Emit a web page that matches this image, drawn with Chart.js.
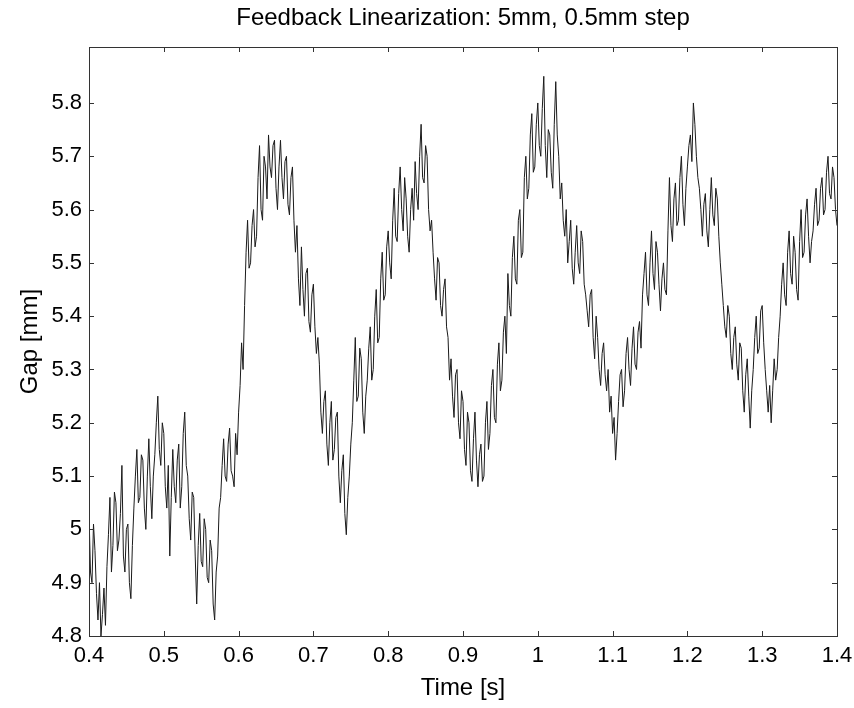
<!DOCTYPE html>
<html>
<head>
<meta charset="utf-8">
<title>Feedback Linearization</title>
<script src="https://cdn.jsdelivr.net/npm/chart.js@4.4.0/dist/chart.umd.min.js"></script>
<style>
  html, body { margin: 0; padding: 0; background: #fff; }
  #wrap { width: 854px; height: 708px; position: relative; }
</style>
</head>
<body>
<div id="wrap"><canvas id="myChart"></canvas></div>
<script>
// sampling of the gap signal (s)
const tStart = 0.4;
const tStep = 0.002;

// gap readings [mm], one every 2 ms from 0.400 s to 1.400 s (20 per row = 40 ms)
const gap = [
    5.03, 4.92, 4.90, 5.01, 4.96, 4.88, 4.83, 4.90, 4.80, 4.84, 4.89, 4.82, 4.93, 4.99, 5.06, 4.92, 4.97, 5.07, 5.05, 4.96,
    4.98, 5.03, 5.12, 4.95, 4.92, 5.00, 5.01, 4.90, 4.87, 4.97, 5.04, 5.10, 5.15, 5.05, 5.06, 5.14, 5.13, 5.04, 5.00, 5.10,
    5.17, 5.08, 5.02, 5.10, 5.14, 5.20, 5.25, 5.15, 5.12, 5.20, 5.18, 5.08, 5.04, 5.12, 4.95, 5.06, 5.15, 5.08, 5.05, 5.13,
    5.16, 5.04, 5.08, 5.18, 5.22, 5.12, 5.10, 5.02, 4.98, 5.07, 5.06, 4.95, 4.86, 4.97, 5.03, 4.94, 4.93, 5.02, 5.00, 4.91,
    4.90, 4.98, 4.96, 4.86, 4.83, 4.92, 4.95, 5.04, 5.06, 5.12, 5.17, 5.10, 5.09, 5.16, 5.19, 5.11, 5.10, 5.08, 5.18, 5.14,
    5.22, 5.27, 5.35, 5.30, 5.42, 5.52, 5.58, 5.49, 5.50, 5.57, 5.60, 5.53, 5.55, 5.66, 5.72, 5.60, 5.58, 5.70, 5.68, 5.62,
    5.74, 5.68, 5.66, 5.72, 5.73, 5.64, 5.60, 5.68, 5.73, 5.66, 5.62, 5.69, 5.70, 5.61, 5.59, 5.66, 5.68, 5.58, 5.52, 5.57,
    5.47, 5.42, 5.53, 5.45, 5.40, 5.48, 5.49, 5.39, 5.37, 5.44, 5.46, 5.38, 5.33, 5.36, 5.31, 5.22, 5.18, 5.24, 5.26, 5.16,
    5.12, 5.20, 5.24, 5.13, 5.15, 5.21, 5.22, 5.10, 5.05, 5.11, 5.14, 5.03, 4.99, 5.06, 5.10, 5.16, 5.20, 5.28, 5.36, 5.24,
    5.25, 5.34, 5.32, 5.22, 5.18, 5.25, 5.28, 5.34, 5.38, 5.28, 5.30, 5.40, 5.45, 5.35, 5.36, 5.47, 5.52, 5.43, 5.44, 5.53,
    5.56, 5.50, 5.47, 5.58, 5.64, 5.55, 5.54, 5.63, 5.68, 5.60, 5.56, 5.66, 5.62, 5.55, 5.52, 5.60, 5.64, 5.58, 5.69, 5.63,
    5.60, 5.70, 5.76, 5.66, 5.65, 5.72, 5.70, 5.60, 5.56, 5.58, 5.52, 5.47, 5.43, 5.51, 5.50, 5.42, 5.40, 5.45, 5.47, 5.38,
    5.36, 5.28, 5.32, 5.25, 5.21, 5.29, 5.30, 5.20, 5.17, 5.26, 5.24, 5.15, 5.12, 5.22, 5.20, 5.11, 5.09, 5.17, 5.22, 5.13,
    5.08, 5.14, 5.16, 5.09, 5.10, 5.20, 5.24, 5.15, 5.18, 5.27, 5.30, 5.21, 5.20, 5.31, 5.35, 5.26, 5.28, 5.37, 5.40, 5.33,
    5.48, 5.42, 5.40, 5.51, 5.55, 5.47, 5.46, 5.58, 5.60, 5.51, 5.52, 5.66, 5.70, 5.62, 5.64, 5.74, 5.78, 5.67, 5.68, 5.76,
    5.80, 5.72, 5.70, 5.79, 5.85, 5.72, 5.66, 5.75, 5.74, 5.67, 5.64, 5.76, 5.84, 5.74, 5.70, 5.62, 5.65, 5.58, 5.55, 5.60,
    5.50, 5.54, 5.58, 5.49, 5.46, 5.52, 5.57, 5.50, 5.48, 5.56, 5.54, 5.46, 5.44, 5.41, 5.38, 5.44, 5.45, 5.36, 5.32, 5.40,
    5.36, 5.30, 5.27, 5.33, 5.35, 5.29, 5.26, 5.30, 5.22, 5.25, 5.18, 5.21, 5.13, 5.18, 5.24, 5.29, 5.30, 5.23, 5.26, 5.33,
    5.36, 5.30, 5.27, 5.34, 5.38, 5.31, 5.30, 5.37, 5.39, 5.34, 5.44, 5.48, 5.52, 5.44, 5.42, 5.50, 5.56, 5.48, 5.45, 5.54,
    5.52, 5.46, 5.41, 5.47, 5.50, 5.45, 5.44, 5.56, 5.66, 5.57, 5.54, 5.62, 5.65, 5.57, 5.58, 5.66, 5.70, 5.61, 5.57, 5.64,
    5.68, 5.72, 5.74, 5.69, 5.80, 5.76, 5.70, 5.66, 5.64, 5.60, 5.55, 5.61, 5.63, 5.56, 5.53, 5.60, 5.66, 5.59, 5.57, 5.64,
    5.62, 5.55, 5.50, 5.46, 5.42, 5.38, 5.36, 5.42, 5.40, 5.33, 5.30, 5.36, 5.38, 5.31, 5.28, 5.35, 5.34, 5.26, 5.22, 5.29,
    5.32, 5.25, 5.19, 5.26, 5.30, 5.36, 5.40, 5.33, 5.34, 5.41, 5.42, 5.35, 5.30, 5.26, 5.22, 5.27, 5.20, 5.26, 5.32, 5.28,
    5.30, 5.36, 5.40, 5.46, 5.50, 5.44, 5.42, 5.52, 5.56, 5.48, 5.46, 5.55, 5.52, 5.45, 5.43, 5.54, 5.60, 5.51, 5.52, 5.59,
    5.62, 5.55, 5.50, 5.54, 5.56, 5.61, 5.64, 5.57, 5.58, 5.64, 5.66, 5.59, 5.60, 5.67, 5.70, 5.63, 5.62, 5.68, 5.66, 5.60,
    5.57
];

const xTicks = [0.4, 0.5, 0.6, 0.7, 0.8, 0.9, 1, 1.1, 1.2, 1.3, 1.4];
const yTicks = [4.8, 4.9, 5, 5.1, 5.2, 5.3, 5.4, 5.5, 5.6, 5.7, 5.8];

const points = gap.map((v, i) => ({ x: +(tStart + i * tStep).toFixed(3), y: v }));

const fontFam = '"Liberation Sans", Arial, Helvetica, sans-serif';

// matlab style box with inward tick marks on all four sides
const boxTicks = {
    id: 'boxTicks',
    afterDraw(chart) {
        const { ctx, chartArea: a, scales } = chart;
        const len = 5;
        ctx.save();
        ctx.strokeStyle = '#333';
        ctx.lineWidth = 1;
        ctx.strokeRect(a.left + 0.5, a.top + 0.5, a.right - a.left, a.bottom - a.top);
        ctx.beginPath();
        xTicks.forEach(v => {
            const px = Math.round(scales.x.getPixelForValue(v)) + 0.5;
            ctx.moveTo(px, a.bottom); ctx.lineTo(px, a.bottom - len);
            ctx.moveTo(px, a.top); ctx.lineTo(px, a.top + len);
        });
        yTicks.forEach(v => {
            const py = Math.round(scales.y.getPixelForValue(v)) + 0.5;
            ctx.moveTo(a.left, py); ctx.lineTo(a.left + len, py);
            ctx.moveTo(a.right, py); ctx.lineTo(a.right - len, py);
        });
        ctx.stroke();
        ctx.restore();
    }
};

const ctx = document.getElementById('myChart');
new Chart(ctx, {
    type: 'line',
    data: {
        datasets: [{
            label: 'Gap',
            data: points,
            borderColor: '#1a1a1a',
            borderWidth: 1,
            pointRadius: 0,
            tension: 0,
            fill: false
        }]
    },
    options: {
        responsive: true,
        maintainAspectRatio: false,
        animation: false,
        layout: { padding: { left: 0, right: 17, top: 0, bottom: 0 } },
        plugins: {
            legend: { display: false },
            tooltip: { enabled: false },
            title: {
                display: true,
                text: 'Feedback Linearization: 5mm, 0.5mm step',
                fullSize: false,
                color: '#000',
                font: { family: fontFam, size: 24, weight: 'normal' },
                padding: { top: 3.6, bottom: 14.6 }
            }
        },
        scales: {
            x: {
                type: 'linear',
                min: 0.4,
                max: 1.4,
                grid: { display: false, drawTicks: false },
                border: { display: false },
                afterBuildTicks: s => { s.ticks = xTicks.map(v => ({ value: v })); },
                afterFit: s => { s.height = 72; s.paddingLeft = 0; s.paddingRight = 17; },
                ticks: {
                    color: '#000',
                    padding: 7,
                    maxRotation: 0,
                    font: { family: fontFam, size: 22 },
                    callback: v => String(v)
                },
                title: {
                    display: true,
                    text: 'Time [s]',
                    color: '#000',
                    font: { family: fontFam, size: 24 },
                    padding: { top: 0, bottom: 5.6 }
                }
            },
            y: {
                type: 'linear',
                min: 4.8,
                max: 5.905,
                grid: { display: false, drawTicks: false },
                border: { display: false },
                afterBuildTicks: s => { s.ticks = yTicks.map(v => ({ value: v })); },
                afterFit: s => { s.width = 89; },
                ticks: {
                    color: '#000',
                    padding: 7,
                    font: { family: fontFam, size: 22 },
                    callback: v => String(v)
                },
                title: {
                    display: true,
                    text: 'Gap [mm]',
                    color: '#000',
                    font: { family: fontFam, size: 24 },
                    padding: { top: 15.6, bottom: 0 }
                }
            }
        }
    },
    plugins: [boxTicks]
});
</script>
</body>
</html>
